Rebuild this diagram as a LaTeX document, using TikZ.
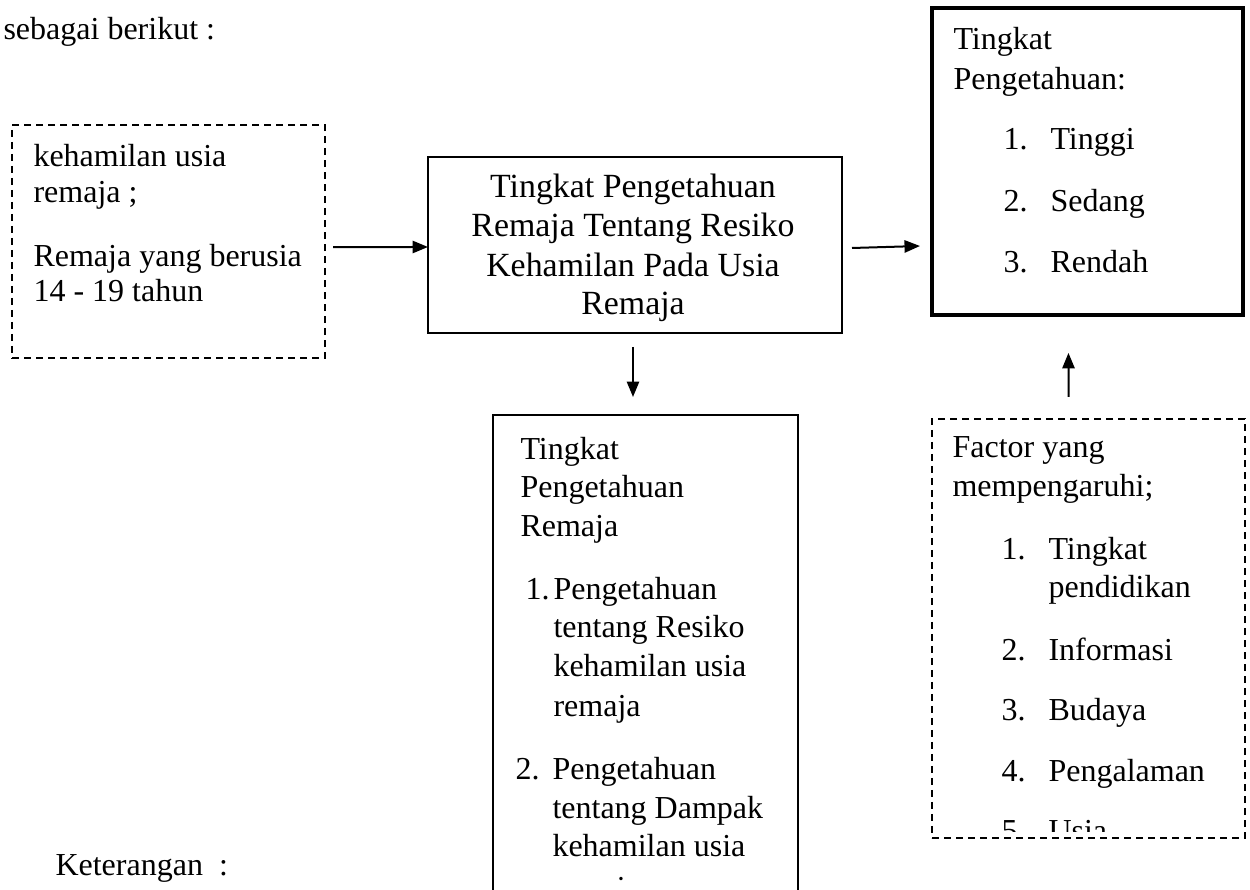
\documentclass[tikz,border=0pt]{standalone}
\usepackage{fontspec}
\setmainfont{Liberation Serif}
\usetikzlibrary{arrows.meta}
\begin{document}
\begin{tikzpicture}[x=0.375pt,y=-0.375pt,
  txt/.style={anchor=base west,inner sep=0pt,font=\fontsize{12}{14}\selectfont},
  ctxt/.style={anchor=base,inner sep=0pt,font=\fontsize{12.7}{15}\selectfont},
  boxbase/.style={anchor=north west,inner sep=0pt,outer sep=0pt},
  solidbox/.style={boxbase,draw,line width=0.75pt},
  thickbox/.style={boxbase,draw,line width=1.7pt},
  dashbox/.style={boxbase,draw,line width=0.7pt,dash pattern=on 2.6pt off 1.9pt},
  arr/.style={line width=0.75pt,-{Triangle[length=5.8pt,width=4.6pt]}}]
\useasboundingbox (0,0) rectangle (1250,890);
\fill[white] (0,0) rectangle (1250,890);

% boxes
\node[dashbox,minimum width=117.4pt,minimum height=87.4pt] (lbox) at (12,125) {};
\node[solidbox,minimum width=155.25pt,minimum height=66pt] (mid) at (428,157) {};
\node[thickbox,minimum width=116.6pt,minimum height=115.1pt] (res) at (932,8) {};
\node[solidbox,minimum width=114.4pt,minimum height=185.6pt] (bot) at (493,415) {};
\node[dashbox,minimum width=117.4pt,minimum height=157.1pt] (fac) at (932,419) {};

% free text
\node[txt] (s0) at (3,40) {sebagai berikut :};
\node[txt] (k0) at (55,875) {Keterangan~~:};

% left box text
\node[txt] (l1) at (33,167) {kehamilan usia};
\node[txt] (l2) at (33,203) {remaja ;};
\node[txt] (l3) at (33,267) {Remaja yang berusia};
\node[txt] (l4) at (33,302) {14 - 19 tahun};

% middle box text
\node[ctxt] (m1) at (633,198) {Tingkat Pengetahuan};
\node[ctxt] (m2) at (633,237) {Remaja Tentang Resiko};
\node[ctxt] (m3) at (633,277) {Kehamilan Pada Usia};
\node[ctxt] (m4) at (633,315) {Remaja};

% result box text
\node[txt] (r1) at (953,50) {Tingkat};
\node[txt] (r2) at (953,90) {Pengetahuan:};
\node[txt] (rn1) at (1003,150) {1.};
\node[txt] (ri1) at (1050,150) {Tinggi};
\node[txt] (rn2) at (1003,212) {2.};
\node[txt] (ri2) at (1050,212) {Sedang};
\node[txt] (rn3) at (1003,273) {3.};
\node[txt] (ri3) at (1050,273) {Rendah};

% bottom middle box text (clipped like the reference)
\begin{scope}
\clip (494,416) rectangle (797,881);
\node[txt] (b1) at (520,460) {Tingkat};
\node[txt] (b2) at (520,498) {Pengetahuan};
\node[txt] (b3) at (520,537) {Remaja};
\node[txt] (bn1) at (525,600) {1.};
\node[txt] (bi1) at (553,600) {Pengetahuan};
\node[txt] (bi2) at (553,638) {tentang Resiko};
\node[txt] (bi3) at (553,677) {kehamilan usia};
\node[txt] (bi4) at (553,717) {remaja};
\node[txt] (bn2) at (515,780) {2.};
\node[txt] (bi5) at (552,780) {Pengetahuan};
\node[txt] (bi6) at (552,818) {tentang Dampak};
\node[txt] (bi7) at (552,857) {kehamilan usia};
\node[txt] (bi8) at (552,898) {remaja};
\end{scope}

% factor box text (clipped to box)
\begin{scope}
\clip (933,420) rectangle (1244,831);
\node[txt] (f1) at (952,458) {Factor yang};
\node[txt] (f2) at (952,497) {mempengaruhi;};
\node[txt] (fn1) at (1001,560) {1.};
\node[txt] (fi1) at (1048,560) {Tingkat};
\node[txt] (fi1b) at (1048,598) {pendidikan};
\node[txt] (fn2) at (1001,660) {2.};
\node[txt] (fi2) at (1048,660) {Informasi};
\node[txt] (fn3) at (1001,721) {3.};
\node[txt] (fi3) at (1048,721) {Budaya};
\node[txt] (fn4) at (1001,781) {4.};
\node[txt] (fi4) at (1048,781) {Pengalaman};
\node[txt] (fn5) at (1001,841) {5.};
\node[txt] (fi5) at (1048,841) {Usia};
\end{scope}

% arrows
\draw[arr] ([shift={(8,5.5)}]lbox.east) -- ([shift={(0,2)}]mid.west);
\draw[arr] ([shift={(10,3)}]mid.east) -- ([shift={(-12,1)}]mid.east -| res.west);
\draw[arr] ([shift={(-2,14)}]mid.south) -- ([shift={(-2,-18)}]bot.north -| mid.south);
\draw[arr] ([shift={(-20,-22)}]fac.north) -- ([shift={(-19,38)}]res.south);
\end{tikzpicture}
\end{document}
